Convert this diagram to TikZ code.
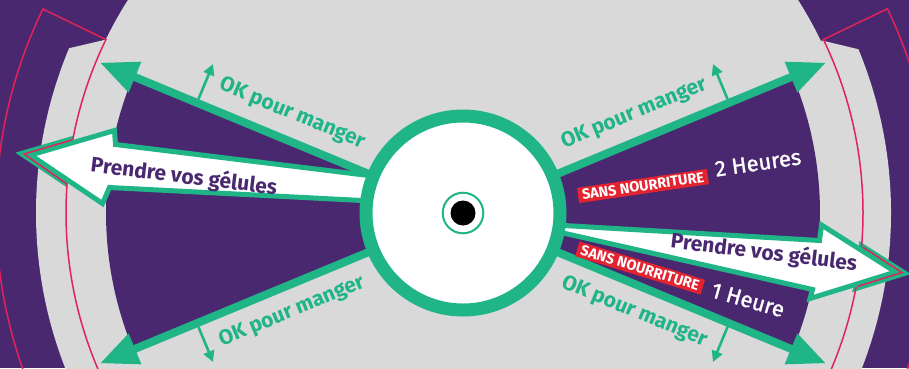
\documentclass[tikz,border=0pt]{standalone}
\usepackage{fontspec}
\setmainfont{Fira Sans}
\newfontfamily\hourfont{Fira Sans}[FakeBold=1.2]
\usepackage{tikz}
\usetikzlibrary{arrows.meta,calc}
\definecolor{Plum}{HTML}{4A2870}
\definecolor{Mist}{HTML}{D9D9D9}
\definecolor{Mint}{HTML}{1FB587}
\definecolor{Rose}{HTML}{E2235A}
\definecolor{Alert}{HTML}{E42330}
\tikzset{
  okarrow/.style={-{Triangle[length=38pt,width=31pt]},line width=8pt,color=Mint},
  hintarrow/.style={-{Triangle[length=11pt,width=11pt]},line width=2.6pt,color=Mint},
  pill/.style={draw=Mint,fill=white,line width=5pt,line join=miter},
  pillglow/.style={draw=Mint,line width=13pt,line join=miter},
  rim/.style={draw=Rose,line width=1.5pt},
  oklabel/.style={text=Mint,font=\fontsize{21}{21}\selectfont\bfseries},
  pilllabel/.style={text=Plum,font=\fontsize{21}{21}\selectfont\bfseries},
  nofood/.style={fill=Alert,text=white,font=\fontsize{14.5}{14.5}\selectfont\bfseries,inner xsep=4pt,inner ysep=2.4pt},
  hours/.style={text=white,font=\fontsize{22}{22}\selectfont\hourfont},
  hub/.style={circle,draw=Mint,fill=white,line width=13pt,minimum size=194pt,inner sep=0pt},
  eye/.style={circle,draw=Mint,fill=white,line width=2pt,minimum size=40.6pt,inner sep=0pt},
  pupil/.style={circle,fill=black,minimum size=25pt,inner sep=0pt}
}

\begin{document}
\begin{tikzpicture}[x=1pt,y=-1pt]
  \useasboundingbox (0,0) rectangle (909,368);
  \clip (0,0) rectangle (909,368);
  \coordinate (c) at (463,213);

  \coordinate (lpTop) at (430,183);
  \coordinate (lpNeckA) at (115.5,144.5);
  \coordinate (lpBarbA) at (114.5,130.5);
  \coordinate (lpTip) at (30.5,155);
  \coordinate (lpBarbB) at (102.5,203.5);
  \coordinate (lpNeckB) at (109.5,187.5);
  \coordinate (lpBase) at (430,204);
  \coordinate (rpTop) at (530,223.5);
  \coordinate (rpNeckA) at (819.5,240.5);
  \coordinate (rpBarbA) at (821.5,225);
  \coordinate (rpTip) at (895.6,272);
  \coordinate (rpBarbB) at (810,298.5);
  \coordinate (rpNeckB) at (812.5,289.5);
  \coordinate (rpBase) at (530,225.5);

  \fill[Plum] (0,0) rectangle (909,368);
  \fill[Mist] ($(c)+(205.9:397)$) -- ($(c)+(202.7:427)$) arc[start angle=202.7,end angle=130,radius=427] -- ($(c)+(130:390)$) -- cycle;
  \fill[Mist] ($(c)+(-25.7:398)$) -- ($(c)+(-22.5:428)$) arc[start angle=-22.5,end angle=50,radius=428] -- ($(c)+(50:390)$) -- cycle;
  \draw[pillglow] (lpTop) -- (lpNeckA) -- (lpBarbA) -- (lpTip) -- (lpBarbB) -- (lpNeckB) -- (lpBase) -- cycle;
  \draw[pillglow] (rpTop) -- (rpNeckA) -- (rpBarbA) -- (rpTip) -- (rpBarbB) -- (rpNeckB) -- (rpBase) -- cycle;
  \fill[Mist] (c) circle[radius=397];

  \draw[rim] ($(c)+(130:397)$) arc[start angle=130,end angle=205.9,radius=397] -- ($(c)+(205.9:467)$) arc[start angle=205.9,end angle=130,radius=467];
  \draw[rim] ($(c)+(50:400)$) arc[start angle=50,end angle=-25.7,radius=400] -- ($(c)+(-25.7:471)$) arc[start angle=-25.7,end angle=50,radius=471];

  \fill[Plum] (c) -- ($(c)+(157.5:357)$) arc[start angle=157.5,end angle=202.5,radius=357] -- cycle;
  \fill[Plum] (c) -- ($(c)+(-22.5:357)$) arc[start angle=-22.5,end angle=22.5,radius=357] -- cycle;

  \foreach \ang/\nrm/\rot/\nm in {202.5/292.5/-22.5/UL, -22.5/-112.5/22.5/UR, 157.5/67.5/22.5/LL, 22.5/112.5/-22.5/LR}{
    \coordinate (tip\nm) at ($(c)+(\ang:393)$);
    \coordinate (hintFoot\nm) at ($(c)+(\ang:288)+(\nrm:4)$);
    \coordinate (hintHead\nm) at ($(c)+(\ang:288)+(\nrm:42)$);
    \draw[okarrow] (c) -- (tip\nm);
    \draw[hintarrow] (hintFoot\nm) -- (hintHead\nm);
    \node[oklabel,rotate=\rot] (ok\nm) at ($(c)+(\ang:196)+(\nrm:26)$) {OK pour manger};
  }

  \draw[pill] (lpTop) -- (lpNeckA) -- (lpBarbA) -- (lpTip) -- (lpBarbB) -- (lpNeckB) -- (lpBase) -- cycle;
  \draw[pill] (rpTop) -- (rpNeckA) -- (rpBarbA) -- (rpTip) -- (rpBarbB) -- (rpNeckB) -- (rpBase) -- cycle;
  \draw[rim] (72,140) -- (24,154) -- (66,183.3);
  \draw[rim] (863,247.3) -- (902,272.5) -- (858,286.3);

  \node[pilllabel,rotate=-7] (pillLeft) at (184,177) {Prendre vos gélules};
  \node[pilllabel,rotate=-7] (pillRight) at (764,253) {Prendre vos gélules};
  \node[nofood,rotate=8.3] (tagTwo) at (643,186) {SANS NOURRITURE};
  \node[hours,rotate=8.3] (twoHours) at (758,163) {2 Heures};
  \node[nofood,rotate=-17] (tagOne) at (640,268) {SANS NOURRITURE};
  \node[hours,rotate=-16] (oneHour) at (748,300) {1 Heure};

  \node[hub] (hub) at (c) {};
  \node[eye] (eye) at (c) {};
  \node[pupil] (pupil) at (c) {};
\end{tikzpicture}
\end{document}
